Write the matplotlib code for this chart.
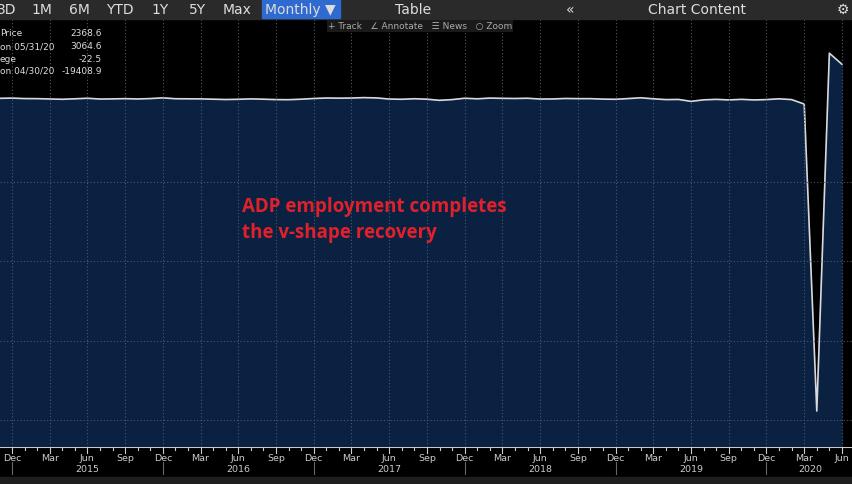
import matplotlib
matplotlib.use("Agg")
import matplotlib.pyplot as plt
import numpy as np

# monthly ADP change (thousands), Nov 2014 .. Jun 2020
values = [230, 245, 215, 210, 190, 170, 200, 235, 185, 195, 210, 190, 215, 260, 205, 200, 195, 175, 155, 170, 195, 175, 150, 145, 175,
          220, 250, 240, 250, 275, 255, 185, 170, 205, 175, 105, 150, 235, 200, 245, 230, 220, 235, 185, 190, 220, 210, 210, 180, 170,
          215, 265, 200, 150, 160, 40, 135, 165, 130, 165, 130, 150, 200, 150, -130, -19408.9, 3064.6, 2368.6]
month_ticks = ["Dec", "Mar", "Jun", "Sep"] * 5 + ["Dec", "Mar", "Jun"]
years = ["2015", "2016", "2017", "2018", "2019", "2020"]

W, H = 852, 485
fig = plt.figure(figsize=(W/100, H/100), dpi=100, facecolor="#000000")
ax = fig.add_axes([0, (485-448)/485, 1, 428/485])
ax.set_facecolor("#000000")
x = np.arange(-1, -1+len(values))
ax.fill_between(x, values, -30000, color="#0b2142")
ax.plot(x, values, color="#d9d9d9", lw=1.2)
ax.set_xlim(-0.95, 66.8)
ax.set_ylim(-21666, 5212)
for yv in [-5000, -10000, -15000, -20000]:
    ax.axhline(yv, color="#4a5a70", lw=0.8, ls=(0, (1, 2)))
for i in range(0, 67, 3):
    ax.axvline(i, color="#4a5a70", lw=0.8, ls=(0, (1, 2)))
ax.set_xticks([])
ax.set_yticks([])
for s in ax.spines.values():
    s.set_visible(False)

# bottom axis
bx = fig.add_axes([0, 0, 1, 37/485])
bx.set_facecolor("#000000")
bx.set_xlim(-0.95, 66.8); bx.set_ylim(0, 37)
bx.axis("off")
bx.axhline(37, color="#cccccc", lw=1.5)
for i in range(0, 67):
    bx.plot([i, i], [37, 34 if i % 3 else 31], color="#cccccc", lw=0.8)
for k, lab in enumerate(month_ticks):
    bx.text(k*3, 26, lab, color="#cccccc", fontsize=6.8, ha="center", va="center")
for k, yr in enumerate(years):
    xc = 6 + k*12 if k < 5 else 63.5
    bx.text(xc, 15, yr, color="#cccccc", fontsize=6.8, ha="center", va="center")
    bx.plot([k*12, k*12], [22, 10], color="#666666", lw=0.8)
bx.add_patch(plt.Rectangle((-1, 0), 70, 7, color="#1e1e1e"))

# toolbar
fig.patches.append(plt.Rectangle((0, 1-20/485), 1, 20/485, transform=fig.transFigure, color="#2a2a2a"))
fig.patches.append(plt.Rectangle((262/W, 1-19/485), 78/W, 18/485, transform=fig.transFigure, color="#2f6ad0"))
for lbl, px in [("3D", 7), ("1M", 42), ("6M", 79), ("YTD", 120), ("1Y", 160), ("5Y", 197), ("Max", 237), ("Monthly ▼", 300), ("Table", 413), ("«", 570), ("Chart Content", 697), ("⚙", 843)]:
    fig.text(px/W, 1-10/485, lbl, color="#dddddd", fontsize=10, ha="center", va="center")
fig.text(420/W, 1-27/485, "+ Track   ∠ Annotate   ☰ News   ○ Zoom", color="#aaaaaa", fontsize=6.5, ha="center", va="center",
         bbox=dict(facecolor="#1a1a1a", edgecolor="none", pad=1))
# info box
for k, (a, b) in enumerate([("Price", "2368.6"), ("on 05/31/20", "3064.6"), ("ege", "-22.5"), ("on 04/30/20", "-19408.9")]):
    yy = 1-(34+12.5*k)/485
    fig.text(0/W, yy, a, color="#dddddd", fontsize=6.5, va="center")
    fig.text(102/W, yy, b, color="#dddddd", fontsize=6.5, va="center", ha="right")

fig.text(242/W, 1-220/485, "ADP employment completes\nthe v-shape recovery", color="#e0202a", fontsize=13.5,
         fontweight="bold", family="Open Sans", va="center", ha="left", linespacing=1.35)
fig.savefig("out.png", dpi=100, facecolor="#000000")
